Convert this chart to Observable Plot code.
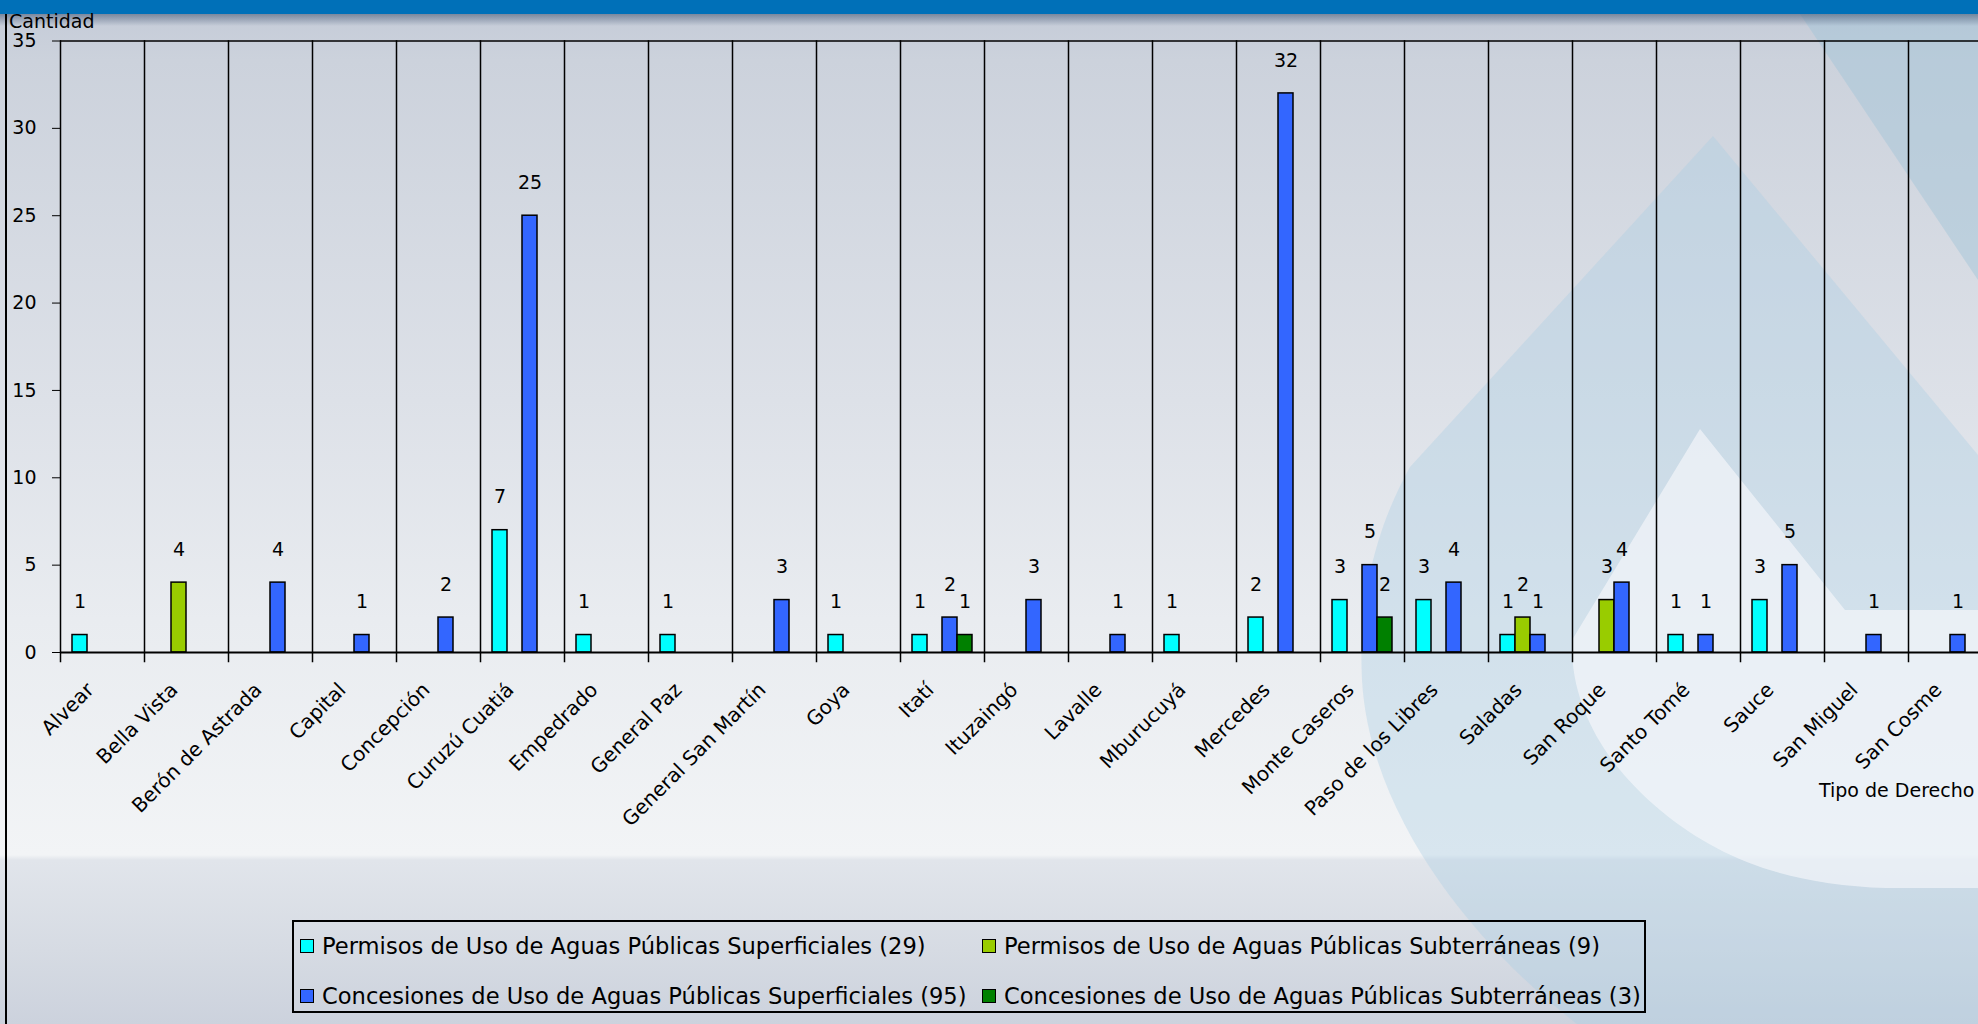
<!DOCTYPE html>
<html>
<head>
<meta charset="utf-8">
<script src="https://cdn.jsdelivr.net/npm/d3@7"></script>
<script src="https://cdn.jsdelivr.net/npm/@observablehq/plot@0.6"></script>
<style>
  html, body { margin: 0; padding: 0; }
  body { width: 1978px; height: 1024px; overflow: hidden; position: relative;
    font-family: "DejaVu Sans", Verdana, sans-serif;
    background: linear-gradient(to bottom, #c3cad7 0px, #ccd2dc 60px, #dde1e8 400px, #e9ecf0 620px, #f2f4f6 855px, #e1e5eb 860px, #d6dbe3 950px, #ccd2dd 1024px); }
  #wm { position: absolute; left: 0; top: 0; }
  #band { position: absolute; left: 0; top: 0; width: 1978px; height: 14px; background: #0070b8; z-index: 5; }
  #shadow { position: absolute; left: 0; top: 14px; width: 1978px; height: 12px; z-index: 4;
    background: linear-gradient(to bottom, rgba(60,80,110,0.55), rgba(120,135,160,0.0)); }
  #leftborder { position: absolute; left: 5px; top: 14px; width: 2px; height: 1010px; background: #000; z-index: 6; }
  #chart { position: absolute; left: 0; top: 0; z-index: 3; width: 2010px; }
  #chart svg { max-width: none !important; }
  .lab { position: absolute; font-size: 19px; line-height: 1; color: #000; z-index: 6; white-space: nowrap; }
  #legend { position: absolute; left: 292px; top: 920px; width: 1350px; height: 89px; border: 2px solid #000; z-index: 6;
    font-size: 22.6px; color: #000; }
  .item { position: absolute; display: flex; align-items: center; white-space: nowrap; line-height: 1; }
  .sw { width: 12px; height: 12px; border: 1.5px solid #000; margin-right: 8px; }
</style>
</head>
<body>
<svg id="wm" width="1978" height="1024"></svg>
<div id="band"></div>
<div id="shadow"></div>
<div id="leftborder"></div>
<div id="chart"></div>
<div class="lab" id="ylab" style="left:9px; top:12px;">Cantidad</div>
<div class="lab" id="xlab" style="left:1819px; top:781px;">Tipo de Derecho</div>
<div id="legend"></div>
<script>
// ---- data ----
const categories = ["Alvear", "Bella Vista", "Berón de Astrada", "Capital", "Concepción", "Curuzú Cuatiá",
  "Empedrado", "General Paz", "General San Martín", "Goya", "Itatí", "Ituzaingó", "Lavalle", "Mburucuyá",
  "Mercedes", "Monte Caseros", "Paso de los Libres", "Saladas", "San Roque", "Santo Tomé", "Sauce",
  "San Miguel", "San Cosme"];
const seriesNames = [
  "Permisos de Uso de Aguas Públicas Superficiales (29)",
  "Permisos de Uso de Aguas Públicas Subterráneas (9)",
  "Concesiones de Uso de Aguas Públicas Superficiales (95)",
  "Concesiones de Uso de Aguas Públicas Subterráneas (3)"
];
const permisosSuperficiales   = [1,0,0,0,0,7,1,1,0,1,1,0,0,1,2,3,3,1,0,1,3,0,0];
const permisosSubterraneas    = [0,4,0,0,0,0,0,0,0,0,0,0,0,0,0,0,0,2,3,0,0,0,0];
const concesionesSuperficiales= [0,0,4,1,2,25,0,0,3,0,2,3,1,0,32,5,4,1,4,1,5,1,1];
const concesionesSubterraneas = [0,0,0,0,0,0,0,0,0,0,1,0,0,0,0,2,0,0,0,0,0,0,0];
const seriesColors = ["#00ffff", "#99cc00", "#3366ff", "#008000"];
const yTicks = [0, 5, 10, 15, 20, 25, 30, 35];

const seriesValues = [permisosSuperficiales, permisosSubterraneas, concesionesSuperficiales, concesionesSubterraneas];
const rows = [];
categories.forEach((c, i) => seriesValues.forEach((vals, s) => {
  if (vals[i] > 0) rows.push({cat: c, serie: seriesNames[s], value: vals[i]});
}));

// ---- decorative watermark (background logo) ----
const wm = d3.select("#wm");
wm.append("path").attr("d", "M1800,14L1978,14L1978,280Z").attr("fill", "rgba(160,195,215,0.45)");
wm.append("path")
  .attr("d", "M1713,136L1978,455L1978,1024L1577,1024C1480,950 1370,820 1362,680C1358,600 1375,530 1410,467Z")
  .attr("fill", "rgba(170,205,228,0.36)");
wm.append("path")
  .attr("d", "M1700,429L1845,610L1978,610L1978,888L1886,888C1790,885 1720,860 1660,810C1600,760 1570,700 1572,640Z")
  .attr("fill", "rgba(248,249,251,0.62)");

// ---- chart ----
const chart = Plot.plot({
  width: 2010,
  height: 885,
  marginLeft: 54,
  marginRight: 12,
  marginTop: 40.5,
  marginBottom: 233,
  style: {background: "transparent", fontFamily: "'DejaVu Sans', Verdana, sans-serif", fontSize: "19px", color: "#000", overflow: "visible", maxWidth: "none"},
  fx: {domain: categories, padding: 0, label: null},
  x: {domain: seriesNames, paddingInner: 0, paddingOuter: 0.72, axis: null},
  y: {domain: [0, 35], axis: null},
  color: {domain: seriesNames, range: seriesColors},
  marks: [
    Plot.frame({anchor: "left", stroke: "#000", strokeWidth: 1.5, insetBottom: -9}),
    Plot.ruleY([35], {stroke: "#000", strokeWidth: 1.5}),
    Plot.barY(rows, {fx: "cat", x: "serie", y: "value", fill: "serie", stroke: "#000", strokeWidth: 1.5}),
    Plot.text(rows, {fx: "cat", x: "serie", y: "value", text: "value", dy: -33, fontSize: 19, fill: "#000"}),
    Plot.ruleY([0], {stroke: "#000", strokeWidth: 2.2}),
    Plot.axisY({ticks: yTicks, tickSize: 8, tickPadding: 16, label: null, fontSize: 19, stroke: "#000"}),
    Plot.axisFx({anchor: "bottom", tickSize: 0, tickRotate: -45, tickPadding: 34, dx: -12, fontSize: 20, label: null})
  ]
});
document.getElementById("chart").appendChild(chart);

// ---- legend ----
const legend = document.getElementById("legend");
const pos = [[6, 24], [688, 24], [6, 74], [688, 74]];
seriesNames.forEach((name, i) => {
  const it = document.createElement("div");
  it.className = "item";
  it.style.left = pos[i][0] + "px";
  it.style.top = (pos[i][1] - 11) + "px";
  it.innerHTML = `<span class="sw" style="background:${seriesColors[i]}"></span><span>${name}</span>`;
  legend.appendChild(it);
});
</script>
</body>
</html>
